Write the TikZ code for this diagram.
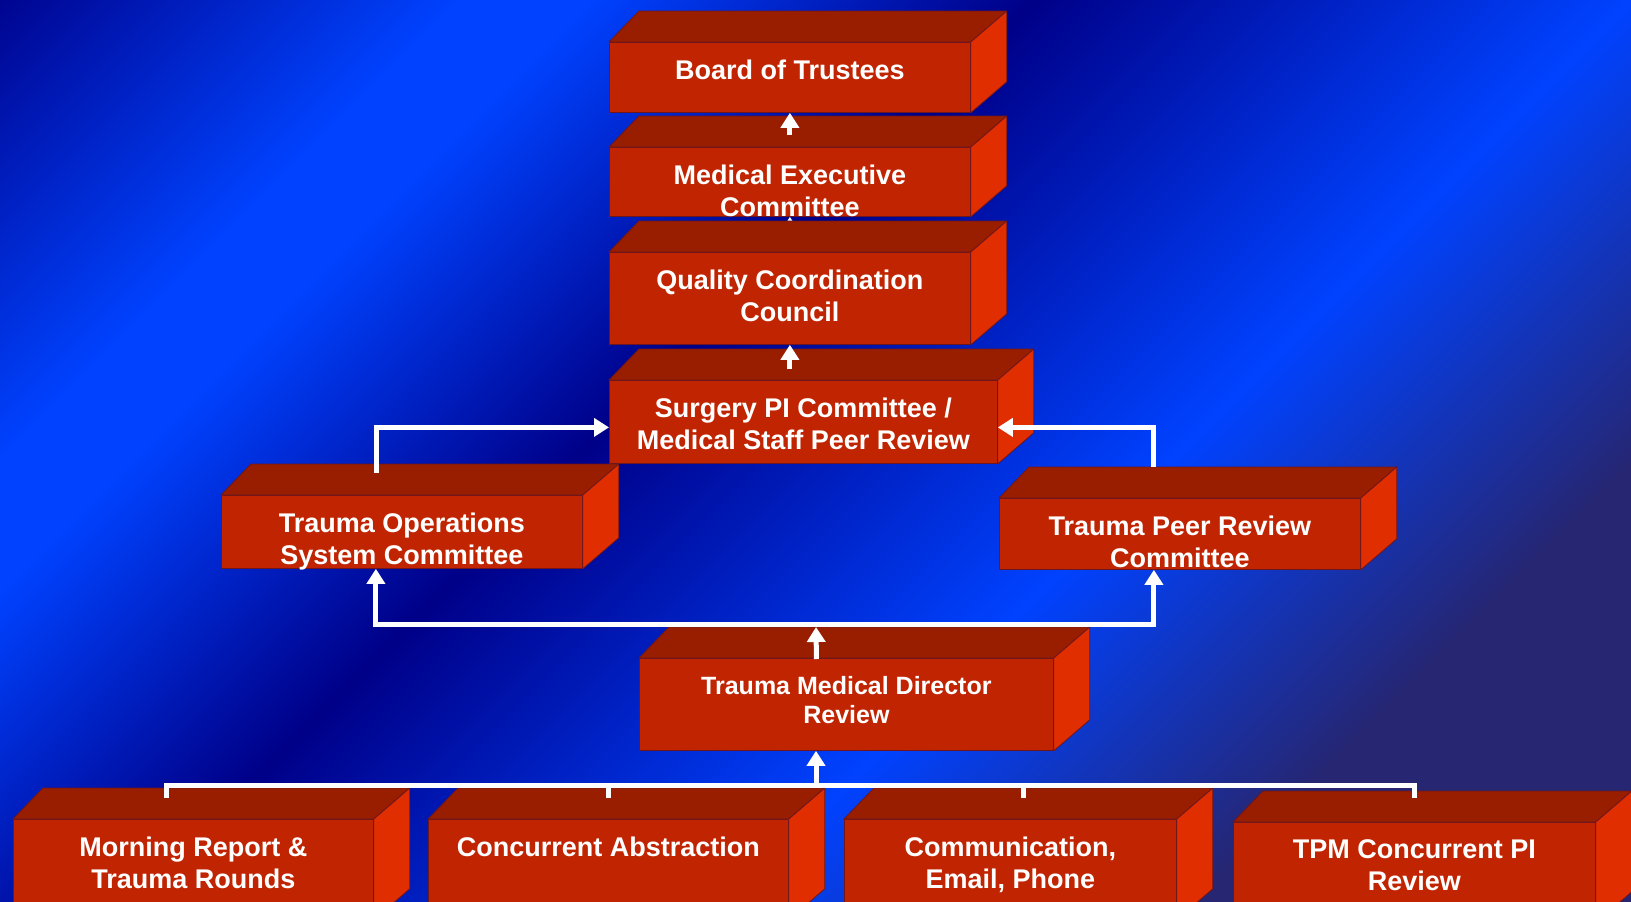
\documentclass[tikz,border=0pt]{standalone}
\usepackage{fontspec}
\setmainfont{Liberation Sans}
\usetikzlibrary{calc}
\usetikzlibrary{arrows.meta}

\definecolor{navy}{RGB}{0,0,136}
\definecolor{brightblue}{RGB}{0,66,255}
\definecolor{greynavy}{RGB}{38,38,114}
\definecolor{frontred}{RGB}{192,36,0}
\definecolor{topred}{RGB}{153,30,0}
\definecolor{sidered}{RGB}{224,46,0}
\definecolor{edgered}{RGB}{110,22,30}

\pgfdeclarehorizontalshading{backdrop}{100bp}{color(0bp)=(navy); color(25bp)=(navy); color(34.5bp)=(brightblue); color(37bp)=(brightblue); color(45.5bp)=(navy); color(57bp)=(brightblue); color(66bp)=(greynavy); color(100bp)=(greynavy)}

\tikzset{face/.style={draw=edgered, line width=0.8pt, line join=round}}
\tikzset{box/.style 2 args={face, fill=frontred, anchor=north west, inner sep=0pt, text=white,
    font=\fontsize{27}{32}\selectfont\bfseries,
    execute at begin node={\begin{minipage}[t][#2pt][t]{#1pt}\centering\vspace*{17.5pt}},
    execute at end node={\end{minipage}}}}
\tikzset{flow/.style={draw=white, line width=5pt}}
\tikzset{>={Triangle[width=18pt,length=15pt]}}

% top and side faces of a slab
\newcommand{\slab}[1]{%
  \path[face, fill=topred] (#1.north west) -- ++(30,-31) -- ($(#1.north east)+(36,-31)$) -- (#1.north east) -- cycle;
  \path[face, fill=sidered] (#1.north east) -- ++(36,-31) -- ($(#1.south east)+(36,-31)$) -- (#1.south east) -- cycle;}

\begin{document}
\begin{tikzpicture}[x=1pt, y=-1pt]
    \useasboundingbox (0,0) rectangle (1631,902);
    \begin{scope}
        \clip (0,0) rectangle (1631,902);
        \shade[shading=backdrop, shading angle=-45] (-34.5,-549) rectangle ++(1700,2000);
    \end{scope}

    \node[box={361}{70}] (bot) at (609,42) {Board of Trustees};
    \slab{bot}
    \node[box={361}{69}] (mec) at (609,147) {Medical Executive\\Committee};
    \slab{mec}
    \draw[flow,->] ($(mec.north)+(0,-12)$) -- (bot.south);

    \node[box={361}{92}] (qcc) at (609,252) {Quality Coordination\\Council};
    \draw[flow,->] ($(qcc.north)+(0,-12)$) -- (mec.south);
    \slab{qcc}

    \node[box={388}{83}] (spi) at (609,380) {Surgery PI Committee /\\Medical Staff Peer Review};
    \slab{spi}
    \draw[flow,->] ($(qcc.south |- spi.north)+(0,-11)$) -- (qcc.south);

    \node[box={361}{73}] (tos) at (221,495) {Trauma Operations\\System Committee};
    \slab{tos}
    \node[box={361}{71}] (tpr) at (999,498) {Trauma Peer Review\\Committee};
    \slab{tpr}
    \draw[flow,->] ([xshift=-25pt,yshift=22pt]tos.north) |- ([yshift=-5.5pt]spi.west);
    \draw[flow,->] ([xshift=-26pt,yshift=31pt]tpr.north) |- ([yshift=-5.5pt]spi.east);

    \node[box={414}{92}, font=\fontsize{25}{29}\selectfont\bfseries] (tmd) at (639,658) {Trauma Medical Director\\Review};
    \slab{tmd}
    \coordinate (hub) at (816,624);
    \draw[flow,->,shorten >=3pt] ([xshift=-30pt,yshift=-1pt]tmd.north) -- (hub);
    \draw[flow,->] (hub) -| ([xshift=-26pt]tos.south);
    \draw[flow,->] (hub) -| ([xshift=-26pt]tpr.south);

    \node[box={360}{100}] (mr) at (13,819) {Morning Report \&\\Trauma Rounds};
    \slab{mr}
    \node[box={360}{100}] (ca) at (428,819) {Concurrent Abstraction};
    \slab{ca}
    \node[box={332}{100}] (cep) at (844,819) {Communication,\\Email, Phone};
    \slab{cep}
    \node[box={362}{100}] (tpm) at (1233,822) {TPM Concurrent PI\\Review};
    \slab{tpm}

    \coordinate (bus) at (816,785);
    \draw[flow,->] (bus) -- (bus |- tmd.south);
    \draw[flow] ([xshift=-27pt,yshift=21pt]mr.north) |- (bus);
    \draw[flow] ([yshift=21pt]ca.north) |- (bus);
    \draw[flow] ([xshift=13pt,yshift=21pt]cep.north) |- (bus);
    \draw[flow] ([yshift=24pt]tpm.north) |- (bus);
\end{tikzpicture}
\end{document}
